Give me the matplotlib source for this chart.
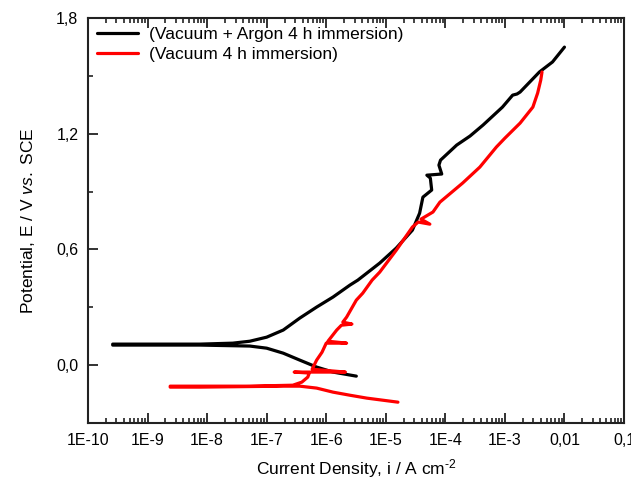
import matplotlib
matplotlib.use('Agg')
import matplotlib.pyplot as plt
from matplotlib.ticker import FixedLocator, LogLocator, NullFormatter

plt.rcParams['font.family'] = ['Liberation Sans', 'DejaVu Sans']
plt.rcParams['mathtext.fontset'] = 'custom'
plt.rcParams['mathtext.rm'] = 'Liberation Sans'
plt.rcParams['mathtext.it'] = 'Liberation Sans:italic'

# Vacuum + Argon 4 h immersion (cathodic branch right->left, then anodic branch)
argon_i = [3.2e-6, 1.3e-6, 6.9e-7, 3.6e-7, 1.9e-7, 1.0e-7, 5.2e-8, 7.6e-9, 2.6e-10,
           2.6e-10, 7.6e-9, 2.7e-8, 5.2e-8, 1.0e-7, 1.9e-7, 3.6e-7, 6.9e-7, 1.3e-6,
           2.5e-6, 3.4e-6, 7.9e-6, 1.5e-5, 2.8e-5, 3.7e-5, 4.2e-5, 5.9e-5, 5.6e-5,
           4.9e-5, 8.7e-5, 7.8e-5, 8.3e-5, 1.55e-4, 2.6e-4, 4.3e-4, 9.1e-4, 1.35e-3,
           1.6e-3, 1.8e-3, 3.8e-3, 6.3e-3, 1.0e-2]
argon_E = [-0.057, -0.036, -0.010, 0.026, 0.062, 0.088, 0.099, 0.104, 0.104,
           0.109, 0.109, 0.114, 0.124, 0.145, 0.182, 0.244, 0.301, 0.353,
           0.415, 0.441, 0.529, 0.607, 0.700, 0.788, 0.871, 0.908, 0.970,
           0.985, 0.991, 1.037, 1.063, 1.141, 1.188, 1.245, 1.338, 1.400,
           1.406, 1.416, 1.520, 1.572, 1.649]

# Vacuum 4 h immersion
vac_i = [1.6e-5, 4.8e-6, 2.5e-6, 1.3e-6, 6.9e-7, 3.6e-7, 1.9e-7, 7.6e-9, 2.4e-9,
         2.4e-9, 5.2e-8, 2.75e-7, 3.9e-7, 4.9e-7, 5.2e-7, 2.9e-7, 2.1e-6, 5.8e-7,
         6.9e-7, 8.5e-7, 1.0e-6, 2.2e-6, 1.07e-6, 1.5e-6, 1.8e-6, 2.7e-6, 1.9e-6,
         2.2e-6, 3.2e-6, 4.1e-6, 5.9e-6, 7.9e-6, 1.5e-5, 2.8e-5, 3.5e-5, 5.5e-5,
         3.9e-5, 6.2e-5, 8.1e-5, 1.95e-4, 3.8e-4, 7.2e-4, 1.0e-3, 1.8e-3, 2.95e-3,
         3.55e-3, 4.0e-3, 4.2e-3]
vac_E = [-0.192, -0.171, -0.156, -0.140, -0.119, -0.109, -0.109, -0.114, -0.114,
         -0.109, -0.109, -0.104, -0.088, -0.062, -0.041, -0.036, -0.036, -0.021,
         0.026, 0.067, 0.114, 0.114, 0.124, 0.182, 0.207, 0.213, 0.223,
         0.249, 0.337, 0.373, 0.441, 0.482, 0.596, 0.716, 0.742, 0.731,
         0.757, 0.794, 0.845, 0.944, 1.027, 1.131, 1.177, 1.255, 1.338,
         1.411, 1.478, 1.520]

x_ticks = [1e-10, 1e-9, 1e-8, 1e-7, 1e-6, 1e-5, 1e-4, 1e-3, 1e-2, 1e-1]
x_labels = ['1E-10', '1E-9', '1E-8', '1E-7', '1E-6', '1E-5', '1E-4', '1E-3', '0,01', '0,1']
y_ticks = [0.0, 0.6, 1.2, 1.8]
y_labels = ['0,0', '0,6', '1,2', '1,8']

fig = plt.figure(figsize=(6.31, 4.86), dpi=100)
ax = fig.add_axes([88/631, 1-423/486, (624-88)/631, (423-18)/486])

ax.plot(argon_i, argon_E, color='black', lw=2.3, solid_capstyle='round',
        label='(Vacuum + Argon 4 h immersion)')
ax.plot(vac_i, vac_E, color='#ff0000', lw=2.3, solid_capstyle='round',
        label='(Vacuum 4 h immersion)')

ax.set_xscale('log')
ax.set_xlim(1e-10, 1e-1)
ax.set_ylim(-0.3, 1.8)
ax.set_xticks(x_ticks)
ax.set_xticklabels(x_labels)
ax.xaxis.set_minor_locator(LogLocator(base=10, subs=range(2, 10), numticks=20))
ax.xaxis.set_minor_formatter(NullFormatter())
ax.set_yticks(y_ticks)
ax.set_yticklabels(y_labels)
ax.yaxis.set_minor_locator(FixedLocator([-0.3, 0.3, 0.9, 1.5]))

ax.tick_params(which='both', direction='in', labelsize=11.5, colors='#222222',
               labelcolor='black', top=True, right=False)
ax.tick_params(which='major', length=7, width=1.3, pad=7)
ax.tick_params(which='minor', length=3.5, width=1.2)
for s in ax.spines.values():
    s.set_linewidth(1.5)
    s.set_color('#222222')

ax.set_xlabel('Current Density, i / A cm$^{\\text{-2}}$', fontsize=12.5, labelpad=7)
ax.set_ylabel('Potential, E / V $\\mathit{vs.}$ SCE', fontsize=12.5, labelpad=14)

ax.legend(loc='upper left', frameon=False, fontsize=12.5, handlelength=2.4,
          handletextpad=0.6, borderaxespad=0.3, labelspacing=0.3,
          borderpad=0.2)

fig.savefig('out.png', dpi=100)
